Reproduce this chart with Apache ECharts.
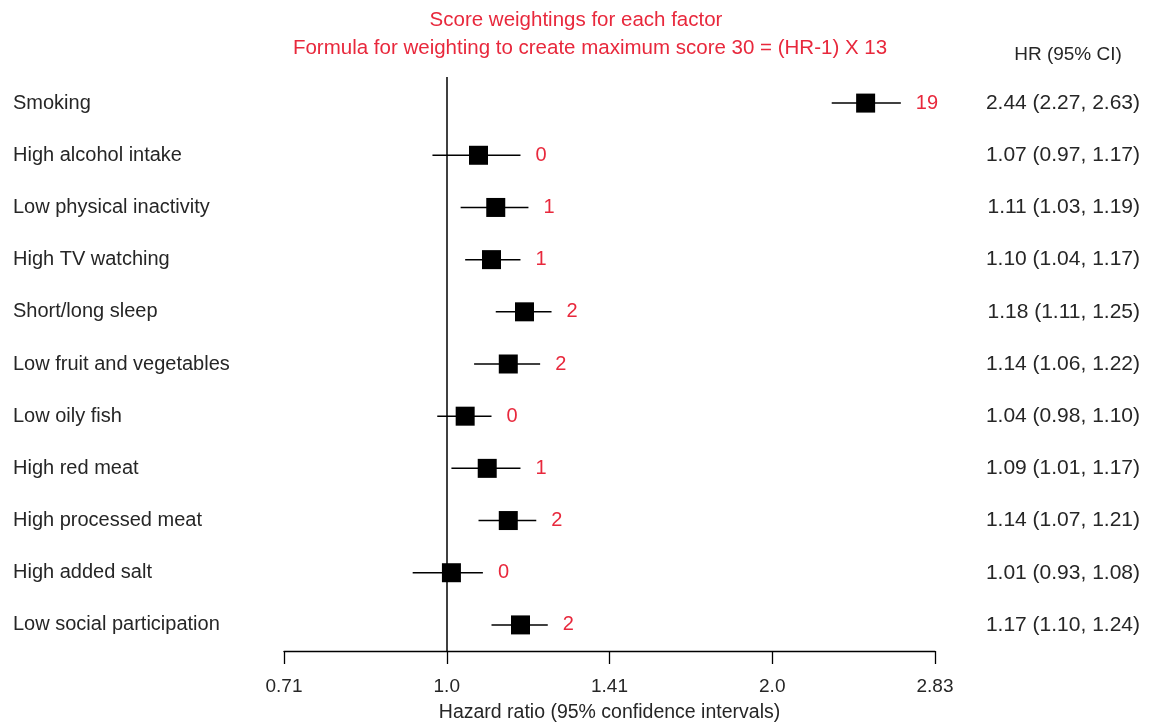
<!DOCTYPE html>
<html>
<head>
<meta charset="utf-8">
<script src="https://cdn.jsdelivr.net/npm/echarts@6/dist/echarts.min.js"></script>
<style>
html,body{margin:0;padding:0;background:#fff;}
#chart{width:1157px;height:728px;}
</style>
</head>
<body>
<div id="chart"></div>
<script>
// ---- data ----
const categories = ['Smoking', 'High alcohol intake', 'Low physical inactivity', 'High TV watching',
  'Short/long sleep', 'Low fruit and vegetables', 'Low oily fish', 'High red meat',
  'High processed meat', 'High added salt', 'Low social participation'];
const hr    = [2.44, 1.07, 1.11, 1.10, 1.18, 1.14, 1.04, 1.09, 1.14, 1.01, 1.17];
const lower = [2.27, 0.97, 1.03, 1.04, 1.11, 1.06, 0.98, 1.01, 1.07, 0.93, 1.10];
const upper = [2.63, 1.17, 1.19, 1.17, 1.25, 1.22, 1.10, 1.17, 1.21, 1.08, 1.24];
const scores = [19, 0, 1, 1, 2, 2, 0, 1, 2, 0, 2];
const tickLabels = ['0.71', '1.0', '1.41', '2.0', '2.83'];
const titleLine1 = 'Score weightings for each factor';
const titleLine2 = 'Formula for weighting to create maximum score 30 = (HR-1) X 13';
const ciHeader = 'HR (95% CI)';
const xName = 'Hazard ratio (95% confidence intervals)';

// ---- build ----
const FONT = 'Liberation Sans, Arial, sans-serif';
const RED = '#e8283c';
const TXT = '#262626';

const ciText = hr.map((v, i) => v.toFixed(2) + ' (' + lower[i].toFixed(2) + ', ' + upper[i].toFixed(2) + ')');
const seriesData = hr.map((v, i) => [i, Math.log2(v), Math.log2(lower[i]), Math.log2(upper[i]), scores[i]]);

const chart = echarts.init(document.getElementById('chart'), null, {renderer: 'canvas'});
chart.setOption({
  animation: false,
  backgroundColor: '#fff',
  textStyle: {fontFamily: FONT},
  grid: {left: 284, right: 222, top: 77, bottom: 76},
  graphic: [
    {type: 'text', x: 576, y: 20, style: {text: titleLine1, fill: RED, font: '20.5px ' + FONT, align: 'center', verticalAlign: 'middle'}},
    {type: 'text', x: 590, y: 48, style: {text: titleLine2, fill: RED, font: '20.5px ' + FONT, align: 'center', verticalAlign: 'middle'}},
    {type: 'text', x: 1068, y: 55, style: {text: ciHeader, fill: TXT, font: '19px ' + FONT, align: 'center', verticalAlign: 'middle'}}
  ],
  xAxis: {
    type: 'value',
    min: -0.5, max: 1.5, interval: 0.5,
    splitLine: {show: false},
    axisLine: {show: true, lineStyle: {color: '#000', width: 1.3}},
    axisTick: {show: true, length: 13, lineStyle: {color: '#000', width: 1.3}},
    axisLabel: {
      margin: 26, color: TXT, fontSize: 19, fontFamily: FONT,
      formatter: function (v) { const idx = Math.round((v + 0.5) / 0.5); return tickLabels[idx] || ''; }
    },
    name: xName, nameLocation: 'middle', nameGap: 52,
    nameTextStyle: {color: TXT, fontSize: 19.5, fontFamily: FONT}
  },
  yAxis: [
    {
      type: 'category', data: categories, inverse: true,
      axisLine: {show: false}, axisTick: {show: false}, splitLine: {show: false},
      axisLabel: {align: 'left', margin: 271, color: TXT, fontSize: 20, fontFamily: FONT}
    },
    {
      type: 'category', data: ciText, inverse: true, position: 'right',
      axisLine: {show: false}, axisTick: {show: false}, splitLine: {show: false},
      axisLabel: {align: 'right', margin: 205, color: TXT, fontSize: 21, fontFamily: FONT}
    }
  ],
  series: [{
    type: 'custom',
    yAxisIndex: 0,
    data: seriesData,
    encode: {x: [1, 2, 3], y: 0},
    renderItem: function (params, api) {
      const y = api.value(0);
      const c = api.coord([api.value(1), y]);
      const lo = api.coord([api.value(2), y]);
      const hi = api.coord([api.value(3), y]);
      const s = 19;
      return {
        type: 'group',
        children: [
          {type: 'line', shape: {x1: lo[0], y1: lo[1], x2: hi[0], y2: hi[1]}, style: {stroke: '#000', lineWidth: 1.5}},
          {type: 'rect', shape: {x: c[0] - s / 2, y: c[1] - s / 2, width: s, height: s}, style: {fill: '#000'}},
          {type: 'text', x: hi[0] + 15, y: hi[1], style: {text: String(api.value(4)), fill: RED, font: '20px ' + FONT, align: 'left', verticalAlign: 'middle'}}
        ]
      };
    },
    markLine: {
      silent: true, symbol: 'none', label: {show: false},
      lineStyle: {color: '#000', width: 1.5, type: 'solid'},
      data: [{xAxis: 0}]
    }
  }]
});
</script>
</body>
</html>
